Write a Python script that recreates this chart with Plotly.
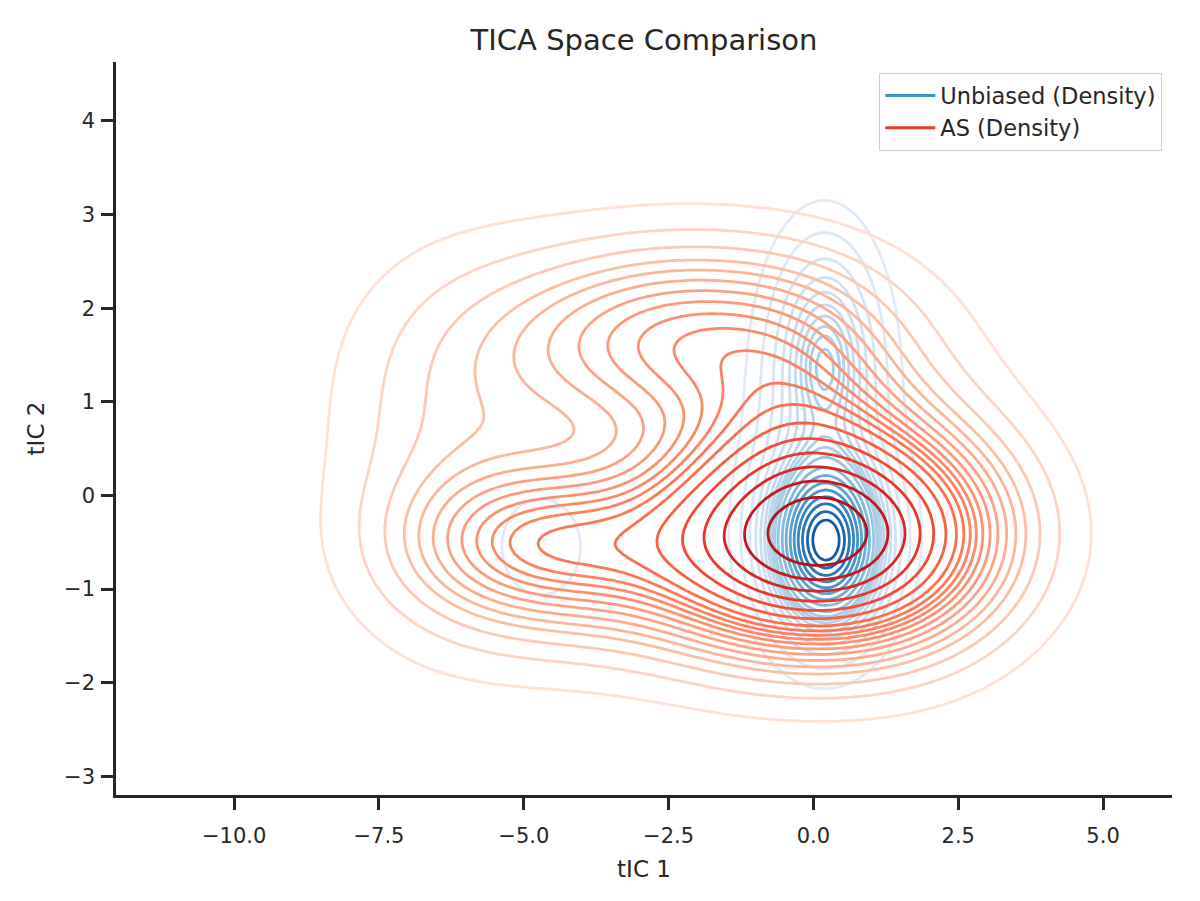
import numpy as np
import plotly.graph_objects as go
from plotly.colors import sample_colorscale, sequential

# ---------------- data ----------------
# Density components of each sample (centre, spread, share of the points)
UNB_CX = [0.22, 0.20, 0.20, 0.20, 0.15, -4.70]
UNB_CY = [-0.50, 1.40, 1.50, -0.40, 0.50, -0.55]
UNB_SX = [0.55, 0.35, 0.60, 0.75, 0.75, 0.62]
UNB_SY = [0.50, 0.45, 0.80, 0.75, 1.20, 0.47]
UNB_W = [0.50, 0.045, 0.155, 0.15, 0.13, 0.027]

AS_CX = [0.05, -4.60, -2.20, 0.00, -6.30, -2.00, 2.00, -4.00]
AS_CY = [-0.45, -0.50, 1.70, 1.00, 0.50, 0.20, -0.30, -1.20]
AS_SX = [1.90, 1.60, 2.30, 1.20, 1.50, 3.00, 1.40, 2.00]
AS_SY = [0.80, 0.55, 0.72, 0.80, 1.35, 1.30, 1.00, 0.60]
AS_W = [0.46, 0.09, 0.19, 0.04, 0.08, 0.08, 0.04, 0.03]

N_LEVELS = 20          # seaborn-style iso-proportion levels
THRESH = 0.05

X_TICKS = [-10.0, -7.5, -5.0, -2.5, 0.0, 2.5, 5.0]
X_TICK_TEXT = ["\u221210.0", "\u22127.5", "\u22125.0", "\u22122.5", "0.0", "2.5", "5.0"]
Y_TICKS = [-3, -2, -1, 0, 1, 2, 3, 4]
Y_TICK_TEXT = ["\u22123", "\u22122", "\u22121", "0", "1", "2", "3", "4"]

X_RANGE = [-12.04, 6.19]
Y_RANGE = [-3.20, 4.63]

# ---------------- density grids ----------------
gx = np.linspace(-15, 9, 360)
gy = np.linspace(-5.5, 7.0, 260)
GX, GY = np.meshgrid(gx, gy)


def mixture(cx, cy, sx, sy, w):
    w = np.asarray(w, float)
    w = w / w.sum()
    z = np.zeros_like(GX)
    for a, b, s, t, k in zip(cx, cy, sx, sy, w):
        z += k / (2 * np.pi * s * t) * np.exp(-0.5 * (((GX - a) / s) ** 2 + ((GY - b) / t) ** 2))
    return z


def iso_levels(z, isoprop):
    vals = np.sort(z.ravel())[::-1]
    cum = np.cumsum(vals) / vals.sum()
    idx = np.searchsorted(cum, 1 - np.asarray(isoprop))
    return np.take(vals, idx, mode="clip")


FONT = "DejaVu Sans"
INK = "#262626"

fig = go.Figure()


def add_density(z, scale, name, legend_color):
    levels = iso_levels(z, np.linspace(THRESH, 1, N_LEVELS))
    lo, hi = levels[0], levels[-1]
    for lev in levels[:-1]:
        t = (lev - lo) / (hi - lo)
        col = sample_colorscale(scale, [0.12 + 0.78 * t])[0]
        fig.add_trace(go.Contour(
            x=gx, y=gy, z=z, autocontour=False,
            contours=dict(start=lev, end=lev, size=1.0, coloring="none"),
            line=dict(color=col, width=2.8, smoothing=1.0),
            showscale=False, showlegend=False, hoverinfo="skip",
        ))
    fig.add_trace(go.Scatter(x=[None], y=[None], mode="lines", name=name,
                             line=dict(color=legend_color, width=3)))


add_density(mixture(UNB_CX, UNB_CY, UNB_SX, UNB_SY, UNB_W), sequential.Blues,
            "Unbiased (Density)", "#4292c6")
add_density(mixture(AS_CX, AS_CY, AS_SX, AS_SY, AS_W), sequential.Reds,
            "AS (Density)", "#ef3b2c")

axis_common = dict(
    showgrid=False, zeroline=False, showline=True, linecolor=INK, linewidth=2.5,
    ticks="outside", ticklen=12, tickwidth=2.5, tickcolor=INK,
    tickfont=dict(family=FONT, size=21, color=INK), mirror=False,
)

# the page body adds an 8 px offset; margins compensate so the plot area
# sits at x 116..1172, y 62..795 in the window
fig.update_layout(
    width=1200, height=901,
    margin=dict(l=108, r=36, t=54, b=114, autoexpand=False),
    paper_bgcolor="white", plot_bgcolor="white",
    font=dict(family=FONT, color=INK),
    title=dict(text="TICA Space Comparison", x=636 / 1200, xanchor="center",
               y=1 - 32 / 901, yref="container", yanchor="middle",
               font=dict(family=FONT, size=29, color=INK)),
    xaxis=dict(range=X_RANGE, tickvals=X_TICKS, ticktext=X_TICK_TEXT,
               ticklabelstandoff=8,
               title=dict(text="tIC 1", font=dict(family=FONT, size=23, color=INK), standoff=14),
               **axis_common),
    yaxis=dict(range=Y_RANGE, tickvals=Y_TICKS, ticktext=Y_TICK_TEXT,
               ticklabelstandoff=2,
               title=dict(text="tIC 2", font=dict(family=FONT, size=23, color=INK), standoff=14),
               **axis_common),
    legend=dict(x=0.9905, y=0.985, xanchor="right", yanchor="top",
                bgcolor="white", bordercolor="#cccccc", borderwidth=1.3,
                itemwidth=50,
                font=dict(family=FONT, size=22.5, color=INK)),
)

fig.write_html("out.html")
